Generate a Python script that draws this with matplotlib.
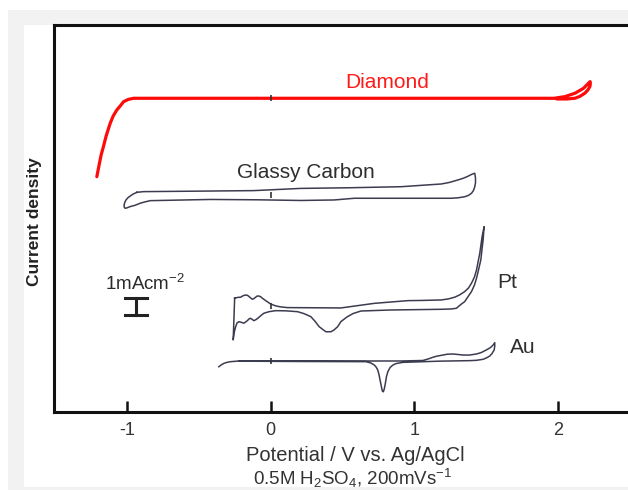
import matplotlib
matplotlib.use("Agg")
import matplotlib.pyplot as plt
from matplotlib.patches import Rectangle

plt.rcParams['font.family'] = ['Liberation Sans', 'DejaVu Sans']
plt.rcParams['mathtext.default'] = 'regular'

# ---- data (potential V vs Ag/AgCl, current density in mA cm^-2 with vertical offsets) ----
diamond_v = [-1.210, -1.194, -1.180, -1.164, -1.145, -1.117, -1.096, -1.071, -1.047, -1.024,
             -0.992, -0.955, 0.0, 1.973, 2.048, 2.118, 2.177, 2.212, 2.223,
             2.224, 2.221, 2.207, 2.186, 2.151, 2.116, 2.060, 1.99]
diamond_i = [13.84, 14.53, 15.12, 15.61, 16.24, 16.98, 17.41, 17.76, 18.00, 18.25,
             18.38, 18.45, 18.45, 18.45, 18.55, 18.75, 19.04, 19.34, 19.43,
             19.29, 19.14, 18.94, 18.75, 18.56, 18.45, 18.41, 18.41]

gc_v = [-0.931, -0.885, -0.489, -0.117, 0.209, 0.559, 0.908, 1.187, 1.243, 1.304, 1.341,
        1.369, 1.397, 1.420, 1.425, 1.425, 1.420, 1.411, 1.397, 1.376, 1.350, 1.306, 1.257,
        0.908, 0.582, 0.442, 0.209, -0.093, -0.419, -0.838, -0.873, -0.908, -0.943, -0.978,
        -0.999, -1.013, -1.020, -1.020, -1.016, -1.007, -0.995, -0.978, -0.957, -0.931]
gc_i = [12.92, 12.96, 12.99, 13.02, 13.15, 13.19, 13.25, 13.41, 13.50, 13.65, 13.75,
        13.85, 13.97, 14.04, 13.76, 13.47, 13.25, 13.03, 12.86, 12.74, 12.66, 12.60, 12.57,
        12.57, 12.57, 12.47, 12.44, 12.48, 12.50, 12.43, 12.36, 12.28, 12.16, 12.08,
        12.01, 11.98, 12.06, 12.18, 12.32, 12.47, 12.59, 12.70, 12.82, 12.92]

pt_v = [-0.251, -0.230, -0.210, -0.189, -0.175, -0.161, -0.147, -0.128, -0.115, -0.105,
        -0.094, -0.082, -0.070, -0.058, -0.035, 0.0, 0.035, 0.070, 0.117, 0.489, 0.721,
        0.955, 1.047, 1.187, 1.236, 1.280, 1.313, 1.350, 1.376, 1.397, 1.418, 1.432,
        1.455, 1.471, 1.485,
        1.478, 1.462, 1.446, 1.432, 1.418, 1.397, 1.376, 1.350, 1.327, 1.292, 1.257,
        1.187, 0.838, 0.733, 0.628, 0.573, 0.531, 0.489, 0.466, 0.440, 0.419, 0.384,
        0.363, 0.337, 0.307, 0.279, 0.230, 0.187, 0.105, 0.035, -0.012, -0.047, -0.063,
        -0.082, -0.101, -0.117, -0.128, -0.140, -0.150, -0.163, -0.175, -0.187, -0.206,
        -0.221, -0.234, -0.244, -0.255, -0.261, -0.251]
pt_i = [6.69, 6.74, 6.75, 6.85, 6.88, 6.86, 6.76, 6.63, 6.68, 6.75,
        6.82, 6.82, 6.78, 6.69, 6.55, 6.35, 6.24, 6.18, 6.14, 6.12, 6.39,
        6.55, 6.56, 6.59, 6.65, 6.75, 6.88, 7.08, 7.29, 7.57, 7.94, 8.35,
        9.34, 10.31, 10.90,
        10.12, 8.94, 8.35, 7.86, 7.47, 7.08, 6.82, 6.49, 6.35, 6.10, 6.06,
        6.04, 6.00, 5.97, 5.94, 5.79, 5.59, 5.32, 5.02, 4.82, 4.72, 4.72,
        4.85, 5.02, 5.35, 5.61, 5.79, 5.90, 5.95, 5.96, 5.90, 5.81, 5.71,
        5.57, 5.44, 5.37, 5.44, 5.51, 5.48, 5.37, 5.29, 5.22, 5.28,
        5.31, 5.24, 5.02, 4.65, 4.24, 6.69]

au_v = [-0.361, -0.346, -0.326, -0.304, -0.279, -0.221, 0.209, 0.908, 1.059, 1.096, 1.129,
        1.159, 1.199, 1.229, 1.269, 1.306, 1.339, 1.383, 1.432, 1.466, 1.501, 1.529, 1.548,
        1.559,
        1.559, 1.555, 1.540, 1.524, 1.501, 1.478, 1.432, 1.385, 1.175, 0.920, 0.873, 0.850,
        0.831, 0.815, 0.805, 0.798, 0.791, 0.784, 0.779, 0.775, 0.768, 0.761, 0.754, 0.745,
        0.733, 0.721, 0.698, 0.663, 0.209, -0.221]
au_i = [2.66, 2.76, 2.86, 2.92, 2.96, 3.00, 3.00, 3.00, 3.03, 3.12, 3.22,
        3.29, 3.35, 3.40, 3.41, 3.38, 3.35, 3.35, 3.41, 3.50, 3.65, 3.79, 3.94,
        4.08,
        3.88, 3.65, 3.44, 3.29, 3.18, 3.10, 3.04, 3.02, 2.99, 2.92, 2.85, 2.76,
        2.62, 2.37, 2.06, 1.69, 1.38, 1.19, 1.21, 1.29, 1.59, 1.88, 2.18, 2.47,
        2.65, 2.76, 2.88, 2.96, 2.97, 2.99]

zero_marks_i = [18.45, 12.75, 6.25, 3.0]   # small markers at 0 V on each curve
x_ticks = [-1, 0, 1, 2]
x_tick_labels = ['-1', '0', '1', '2']
curve_labels = ['Diamond', 'Glassy Carbon', 'Pt', 'Au']
scale_bar = 1.0  # 1 mA cm^-2

# ---- figure ----
W, H = 628, 490
fig = plt.figure(figsize=(W / 100, H / 100), dpi=100)
fig.patch.set_facecolor('white')
fig.patches.append(Rectangle((8 / W, 0), 1, 1 - 10 / H, transform=fig.transFigure,
                             facecolor='#f2f2f2', edgecolor='none', zorder=-10))
fig.patches.append(Rectangle((24 / W, 3 / H), 1, 1 - 28 / H, transform=fig.transFigure,
                             facecolor='white', edgecolor='none', zorder=-9))

ax = fig.add_axes([54 / W, (H - 412) / H, 1 - 54 / W + 0.01, (412 - 25) / H])
ax.set_facecolor('none')
ax.set_xlim(-1.508, 2.53)
ax.set_ylim(0, 22.76)

line_col = '#3c3c50'
ax.plot(diamond_v, diamond_i, color='#ff0a0a', lw=2.3, solid_capstyle='round', solid_joinstyle='round')
for v, i in [(gc_v, gc_i), (pt_v, pt_i), (au_v, au_i)]:
    ax.plot(v, i, color=line_col, lw=1.1, solid_joinstyle='round')

ax.plot([0] * len(zero_marks_i), zero_marks_i, ls='none', marker='|', ms=5, mew=1.2, color='#333333')

# scale bar
sb_x, sb_y, sb_w = -0.936, 5.71, 0.075
ax.plot([sb_x, sb_x], [sb_y, sb_y + scale_bar], color='#222222', lw=2.2)
ax.plot([sb_x - sb_w, sb_x + sb_w], [sb_y, sb_y], color='#222222', lw=2.2)
ax.plot([sb_x - sb_w, sb_x + sb_w], [sb_y + scale_bar, sb_y + scale_bar], color='#222222', lw=2.2)
ax.text(-1.15, 7.55, '1mAcm$^{-2}$', fontsize=13.5, color='#2a2a2a', ha='left', va='center')

txt_col = '#2e2e2e'
ax.text(0.81, 19.4, curve_labels[0], fontsize=15, color='#ff1a1a', ha='center', va='center')
ax.text(0.244, 14.1, curve_labels[1], fontsize=15, color=txt_col, ha='center', va='center')
ax.text(1.578, 7.6, curve_labels[2], fontsize=15, color=txt_col, ha='left', va='center')
ax.text(1.662, 3.82, curve_labels[3], fontsize=15, color=txt_col, ha='left', va='center')

for s in ['left', 'top', 'bottom']:
    ax.spines[s].set_linewidth(2.2)
    ax.spines[s].set_color('#111111')
ax.spines['right'].set_visible(False)
ax.set_yticks([])
ax.set_xticks(x_ticks)
ax.set_xticklabels(x_tick_labels)
ax.tick_params(axis='x', direction='in', length=8, width=1.8, pad=7,
               labelsize=13, labelcolor='#333333', color='#111111')

fig.text(355 / W, 1 - 455 / H, 'Potential / V vs. Ag/AgCl', fontsize=14.5, color='#333333',
         ha='center', va='center')
fig.text(353 / W, 1 - 478 / H, '0.5M H$_2$SO$_4$, 200mVs$^{-1}$', fontsize=13.5, color='#333333',
         ha='center', va='center')
fig.text(34 / W, 1 - 222 / H, 'Current density', fontsize=12.5, fontweight='bold', color='#222222',
         rotation=90, ha='center', va='center')

fig.savefig('out.png', dpi=100)
